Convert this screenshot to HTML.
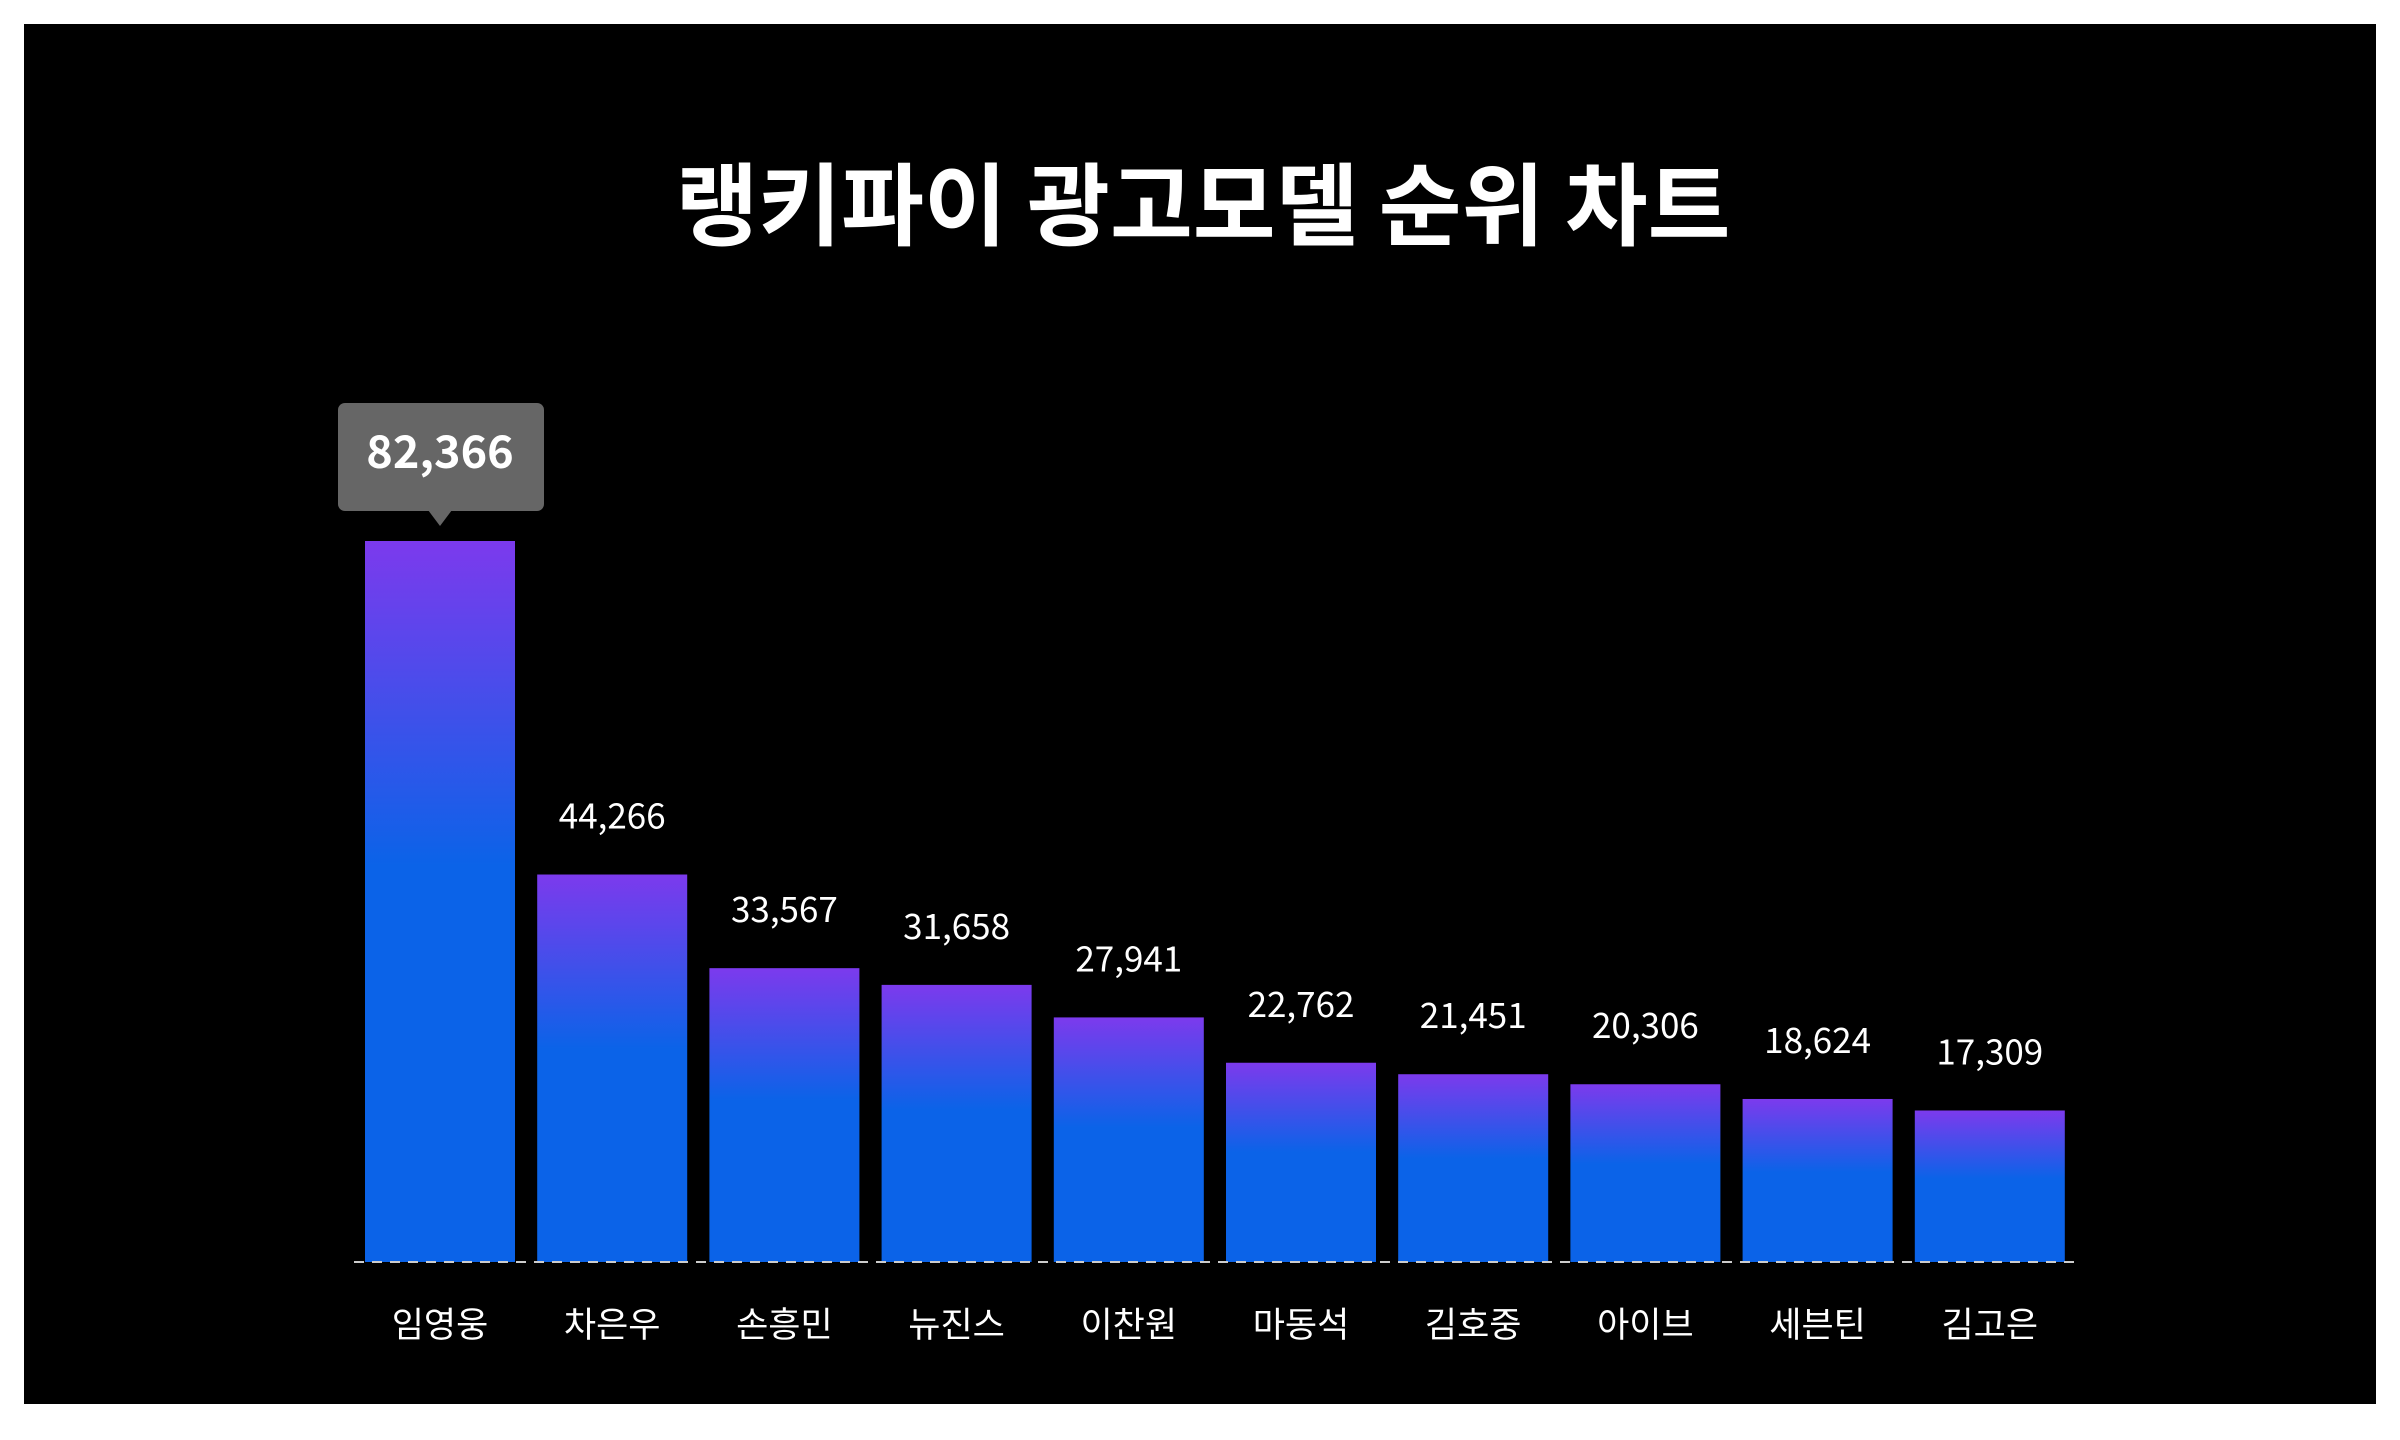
<!DOCTYPE html>
<html><head><meta charset="utf-8"><style>
html,body{margin:0;padding:0;background:#fff;width:2400px;height:1440px;overflow:hidden}
svg{display:block}
text{font-family:"Noto Sans CJK KR","Liberation Sans",sans-serif}
</style></head><body>
<svg width="2400" height="1440" viewBox="0 0 2400 1440">
<defs><linearGradient id="g" x1="0" y1="0" x2="0" y2="1">
<stop offset="0" stop-color="#7c3aed"/><stop offset="0.45" stop-color="#0b63e8"/><stop offset="1" stop-color="#0b63e8"/></linearGradient></defs>
<rect x="24" y="24" width="2352" height="1380" fill="#000"/>
<text x="1203" y="238" font-size="90" font-weight="bold" fill="#fff" text-anchor="middle">랭키파이 광고모델 순위 차트</text>
<g id="bars"></g>
<line x1="354" y1="1262" x2="2074" y2="1262" stroke="#ccc" stroke-width="2" stroke-dasharray="10,8"/>
<rect x="338" y="403" width="206" height="108" rx="7" fill="#666"/>
<polygon points="428,510 452,510 440,526" fill="#666"/>
<text x="440" y="468" font-size="45" font-weight="bold" fill="#fff" text-anchor="middle">82,366</text>
</svg>
<script>
var d=[["임영웅",82366],["차은우",44266],["손흥민",33567],["뉴진스",31658],["이찬원",27941],["마동석",22762],["김호중",21451],["아이브",20306],["세븐틴",18624],["김고은",17309]];
var g=document.getElementById('bars'),s='';
d.forEach(function(r,i){var x=365+172.2*i,h=r[1]*721/82366,y=1262-h,c=x+75;
s+='<rect x="'+x+'" y="'+y+'" width="150" height="'+h+'" fill="url(#g)"/>';
if(i>0)s+='<text x="'+c+'" y="'+(y-46)+'" font-size="35" fill="#fff" text-anchor="middle">'+r[1].toLocaleString('en-US')+'</text>';
s+='<text x="'+c+'" y="1337" font-size="35" fill="#fff" text-anchor="middle">'+r[0]+'</text>';});
g.innerHTML=s;
</script>
</body></html>
